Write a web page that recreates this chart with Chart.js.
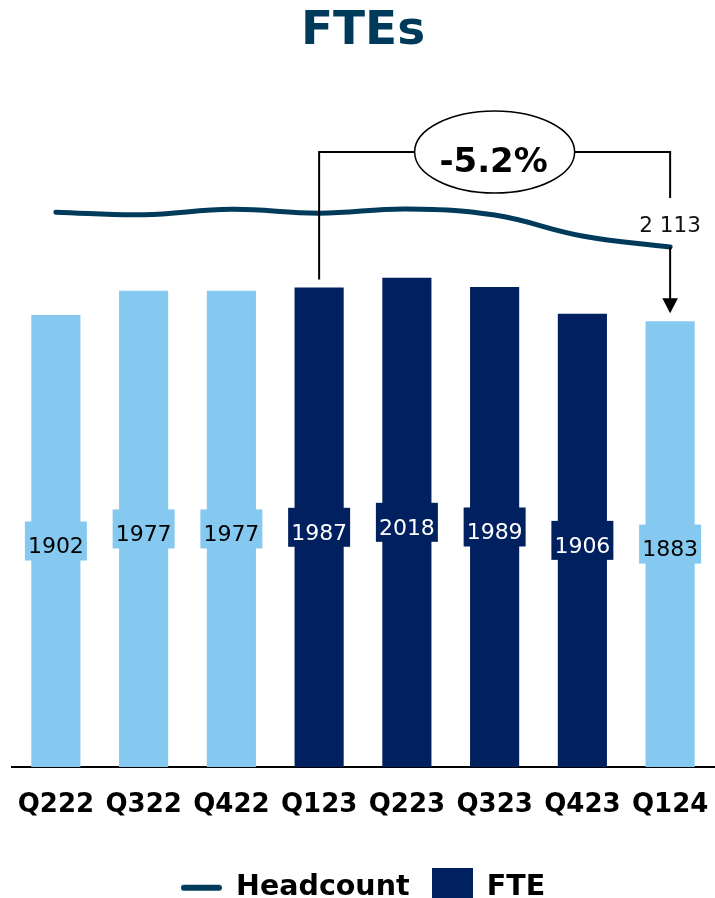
<!DOCTYPE html>
<html><head><meta charset="utf-8">
<script src="https://cdn.jsdelivr.net/npm/chart.js@4"></script>
<style>html,body{margin:0;padding:0;overflow:hidden;background:#fff}#wrap{width:715px;height:912px}</style>
</head><body><div id="wrap"><canvas id="c" width="715" height="912"></canvas></div>
<script>
// ---- data ----
const categories = ['Q222','Q322','Q422','Q123','Q223','Q323','Q423','Q124'];
const fteValues = [1902, 1977, 1977, 1987, 2018, 1989, 1906, 1883];
const headcountValues = [2221, 2213, 2230, 2218, 2231, 2212, 2147, 2113];
const yAxisMin = 500;
const yAxisMax = 2600;
const compareFrom = 3;   // Q123
const compareTo = 7;     // Q124

// ---- styles ----
const LIGHT = '#85C8F0', NAVY = '#00205F', TEAL = '#003B5C';
const barColors = [LIGHT, LIGHT, LIGHT, NAVY, NAVY, NAVY, NAVY, LIGHT];
const labelColors = ['#000', '#000', '#000', '#fff', '#fff', '#fff', '#fff', '#000'];
const FONT = '"DejaVu Sans", Verdana, sans-serif';
Chart.defaults.font.family = FONT;

function fmtSpace(n){ return String(n).replace(/\B(?=(\d{3})+(?!\d))/g, ' '); }

function mkLineIcon(){
  const c = document.createElement('canvas'); c.width = 41; c.height = 8;
  const g = c.getContext('2d'); g.strokeStyle = TEAL; g.lineWidth = 6; g.lineCap = 'round';
  g.beginPath(); g.moveTo(3, 4); g.lineTo(38, 4); g.stroke(); return c;
}
function mkBoxIcon(){
  const c = document.createElement('canvas'); c.width = 41; c.height = 40;
  const g = c.getContext('2d'); g.fillStyle = NAVY; g.fillRect(0, 0, 41, 40); return c;
}
const lineIcon = mkLineIcon(), boxIcon = mkBoxIcon();

const overlay = {
  id: 'overlay',
  afterDatasetsDraw(chart){
    const ctx = chart.ctx;
    const bars = chart.getDatasetMeta(1).data;
    const pts = chart.getDatasetMeta(0).data;
    const bottom = chart.chartArea.bottom;
    ctx.save();
    // value labels inside bars
    ctx.font = '22px ' + FONT;
    ctx.textAlign = 'center'; ctx.textBaseline = 'middle';
    bars.forEach((b, i) => {
      const cy = (b.y + Math.min(b.base, bottom)) / 2;
      const txt = String(fteValues[i]);
      const w = ctx.measureText(txt).width + 6;
      ctx.fillStyle = barColors[i];
      ctx.fillRect(b.x - w / 2, cy - 19.5, w, 39);
      ctx.fillStyle = labelColors[i];
      ctx.fillText(txt, b.x, cy + 6.5);
    });
    // comparison bracket
    const x1 = bars[compareFrom].x, x2 = bars[compareTo].x;
    const by = chart.chartArea.top + 62;
    const ecx = (x1 + x2) / 2, rx = 80, ry = 41;
    const pt = pts[compareTo];
    const tip = bars[compareTo].y - 8;
    ctx.strokeStyle = '#000'; ctx.fillStyle = '#000'; ctx.lineWidth = 2;
    ctx.beginPath();
    ctx.moveTo(x1, bars[compareFrom].y - 8); ctx.lineTo(x1, by); ctx.lineTo(ecx - rx, by);
    ctx.moveTo(ecx + rx, by); ctx.lineTo(x2, by); ctx.lineTo(x2, pt.y - 49);
    ctx.moveTo(x2, pt.y); ctx.lineTo(x2, tip - 14);
    ctx.stroke();
    ctx.beginPath(); ctx.moveTo(x2, tip); ctx.lineTo(x2 - 7.8, tip - 15); ctx.lineTo(x2 + 7.8, tip - 15); ctx.closePath(); ctx.fill();
    ctx.lineWidth = 1.5;
    ctx.beginPath(); ctx.ellipse(ecx, by, rx, ry, 0, 0, Math.PI * 2); ctx.stroke();
    const pct = ((fteValues[compareTo] / fteValues[compareFrom] - 1) * 100).toFixed(1) + '%';
    ctx.font = 'bold 34px ' + FONT; ctx.textBaseline = 'alphabetic'; ctx.textAlign = 'center';
    ctx.fillText(pct, ecx - 1, by + 19.7);
    // last headcount label
    ctx.font = '21.5px ' + FONT; ctx.fillStyle = '#111';
    ctx.fillText(fmtSpace(headcountValues[compareTo]), x2, pt.y - 15);
    ctx.restore();
  }
};

new Chart(document.getElementById('c'), {
  data: {
    labels: categories,
    datasets: [
      { type: 'line', label: 'Headcount', data: headcountValues, borderColor: TEAL, borderWidth: 5,
        borderCapStyle: 'round', tension: 0.4, pointRadius: 0, fill: false },
      { type: 'bar', label: 'FTE', data: fteValues, backgroundColor: barColors, borderWidth: 0,
        categoryPercentage: 1, barPercentage: 0.56 }
    ]
  },
  options: {
    responsive: false, animation: false, devicePixelRatio: 1,
    layout: { padding: { left: 12, right: 1, top: 0, bottom: 0 } },
    scales: {
      x: {
        grid: { display: false, drawTicks: false },
        border: { display: true, color: '#000', width: 2 },
        ticks: { color: '#000', font: { size: 26, weight: 'bold', lineHeight: 2.72 }, padding: 3, maxRotation: 0, autoSkip: false },
        afterFit(s){ s.height = 84.5; }
      },
      y: { display: false, min: yAxisMin, max: yAxisMax }
    },
    plugins: {
      title: { display: true, text: 'FTEs', color: '#003A5A', font: { size: 47, weight: 'bold' },
        padding: { top: 4, bottom: 29.6 } },
      legend: {
        position: 'bottom',
        labels: {
          usePointStyle: true, pointStyleWidth: 41, padding: 22, color: '#000',
          font: { size: 28.5, weight: 'bold' },
          generateLabels(){
            return [
              { text: 'Headcount', pointStyle: lineIcon, fillStyle: TEAL, strokeStyle: TEAL, lineWidth: 0, datasetIndex: 0, hidden: false, fontColor: '#000' },
              { text: 'FTE', pointStyle: boxIcon, fillStyle: NAVY, strokeStyle: NAVY, lineWidth: 0, datasetIndex: 1, hidden: false, fontColor: '#000' }
            ];
          }
        }
      },
      tooltip: { enabled: false }
    }
  },
  plugins: [overlay]
});
</script></body></html>
